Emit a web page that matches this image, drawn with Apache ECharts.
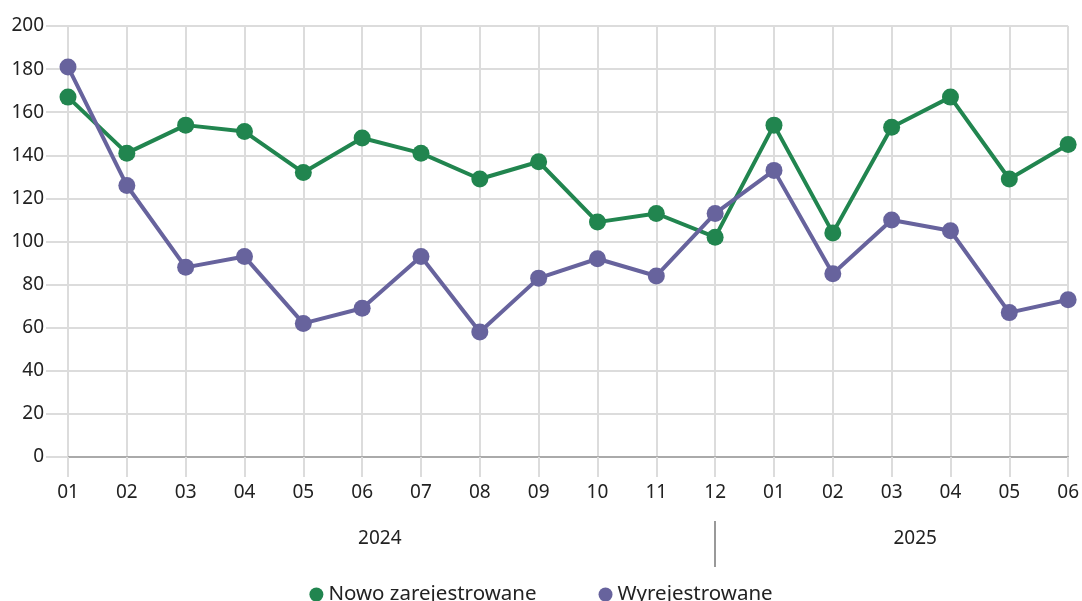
<!DOCTYPE html>
<html><head><meta charset="utf-8">
<script src="https://cdn.jsdelivr.net/npm/echarts@6/dist/echarts.min.js"></script>
<style>html,body{margin:0;padding:0;background:#fff}#c{width:1082px;height:601px}</style>
</head><body><div id="c"></div>
<script>
const months = ['01','02','03','04','05','06','07','08','09','10','11','12','01','02','03','04','05','06'];
const yearLabels = ['2024','2025'];
const yearLabelPos = [5.3, 14.4];
const yearSeparator = [11];
const seriesNames = ['Nowo zarejestrowane','Wyrejestrowane'];
const newRegs = [167,141,154,151,132,148,141,129,137,109,113,102,154,104,153,167,129,145];
const deregs  = [181,126,88,93,62,69,93,58,83,92,84,113,133,85,110,105,67,73];
const yTicks = {min:0, max:200, interval:20};

const FONT = 'Noto Sans';
const chart = echarts.init(document.getElementById('c'), null, {renderer:'canvas'});
const gridCol = '#dcdcdc';
chart.setOption({
  animation:false,
  textStyle:{fontFamily:FONT},
  grid:{left:68, right:11, top:26, bottom:144, containLabel:false},
  legend:{bottom:-9, left:'center', icon:'circle', itemWidth:14, itemHeight:14, itemGap:62,
    textStyle:{fontSize:20.5, color:'#222', fontFamily:FONT}, data:seriesNames},
  xAxis:[{
    type:'category', data:months, boundaryGap:false,
    axisLine:{show:true, lineStyle:{color:'#aaa', width:2}},
    axisTick:{show:true, length:20, lineStyle:{color:gridCol, width:2}},
    axisLabel:{margin:26, fontSize:19, color:'#222', fontFamily:FONT, interval:0},
    splitLine:{show:true, lineStyle:{color:gridCol, width:2}}
  },{
    type:'value', min:0, max:months.length-1, position:'bottom', offset:64,
    axisLine:{show:false},
    axisTick:{show:true, customValues:yearSeparator, length:46, lineStyle:{color:'#999', width:2}},
    axisLabel:{show:true, customValues:yearLabelPos, margin:8, fontSize:19, color:'#222', fontFamily:FONT,
      formatter:function(v){ const i = yearLabelPos.indexOf(v); return i>=0 ? yearLabels[i] : ''; }},
    splitLine:{show:false}
  }],
  yAxis:{
    type:'value', min:yTicks.min, max:yTicks.max, interval:yTicks.interval,
    axisLine:{show:false},
    axisTick:{show:true, length:22, lineStyle:{color:gridCol, width:2}},
    axisLabel:{margin:24, fontSize:19, color:'#222', fontFamily:FONT},
    splitLine:{show:true, lineStyle:{color:gridCol, width:2}}
  },
  series:[
    {name:seriesNames[0], type:'line', data:newRegs, xAxisIndex:0, symbol:'circle', symbolSize:17,
     itemStyle:{color:'#21854f'}, lineStyle:{width:4, color:'#21854f'}},
    {name:seriesNames[1], type:'line', data:deregs, xAxisIndex:0, symbol:'circle', symbolSize:17,
     itemStyle:{color:'#67639d'}, lineStyle:{width:4, color:'#67639d'}}
  ]
});
</script></body></html>
